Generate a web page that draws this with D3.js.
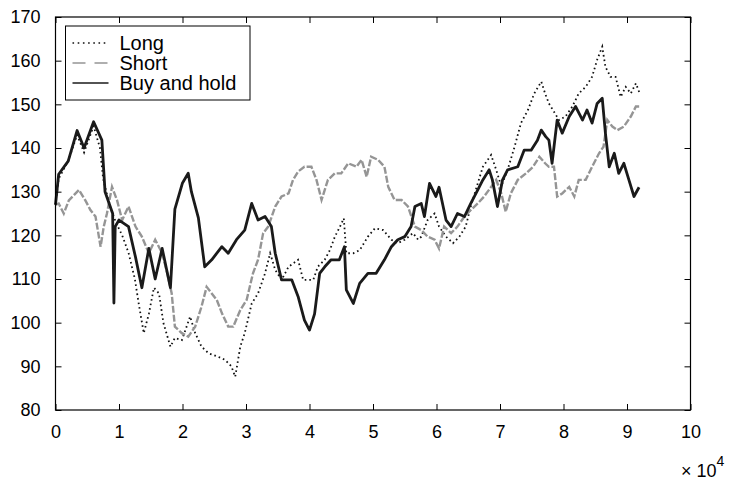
<!DOCTYPE html>
<html>
<head>
<meta charset="utf-8">
<script src="https://cdn.jsdelivr.net/npm/d3@7"></script>
<style>
  html, body { margin: 0; padding: 0; background: #fff; }
  svg { display: block; font-family: "Liberation Sans", Arial, sans-serif; }
</style>
</head>
<body>
<svg id="chart" width="739" height="483"></svg>
<script>
// Time index (×10^4 samples) and portfolio values for each strategy
const longX = [0, 0.05, 0.2, 0.34, 0.45, 0.6, 0.7, 0.75, 0.85, 0.95, 1.05, 1.15, 1.25, 1.31, 1.39, 1.47, 1.55, 1.63, 1.7, 1.81, 1.88, 1.99, 2.12, 2.2, 2.3, 2.41, 2.56, 2.67, 2.77, 2.83, 2.91, 2.98, 3.09, 3.19, 3.3, 3.38, 3.46, 3.56, 3.67, 3.82, 3.9, 3.98, 4.06, 4.13, 4.24, 4.32, 4.4, 4.48, 4.54, 4.58, 4.69, 4.79, 4.92, 5.03, 5.16, 5.29, 5.39, 5.5, 5.63, 5.71, 5.76, 5.86, 5.97, 6.04, 6.15, 6.26, 6.36, 6.46, 6.54, 6.65, 6.73, 6.86, 6.94, 7.02, 7.12, 7.23, 7.33, 7.44, 7.54, 7.65, 7.71, 7.77, 7.85, 7.93, 8.03, 8.14, 8.24, 8.35, 8.45, 8.53, 8.61, 8.66, 8.74, 8.82, 8.9, 8.98, 9.06, 9.14, 9.2];
const longV = [127, 133, 137, 143, 139, 145, 140, 133, 127, 123, 120, 116, 110, 104.4, 97.6, 102, 108, 106.7, 99.9, 94.5, 96.5, 96, 101.4, 97.6, 94.5, 93, 92.2, 91.5, 90, 87.6, 94.5, 97.6, 104.4, 106.7, 111.3, 115.9, 112.1, 109.8, 112.8, 114.4, 109.8, 109.8, 109.8, 112.8, 114.4, 116.6, 119.7, 122, 123.9, 115.9, 115.9, 116.6, 119.7, 121.6, 121.2, 119, 118.2, 119, 120.5, 119, 119.7, 123.5, 125, 122, 119.7, 118.2, 119.7, 122, 126.6, 131.9, 135.7, 138.4, 135, 131.2, 135, 140.3, 145.7, 148.7, 152.5, 155.2, 152.5, 150.2, 148.3, 146.4, 147.2, 149.5, 152.5, 154, 156.3, 160.2, 163.2, 158.6, 156.3, 156.3, 151.7, 154, 152.5, 154.8, 152.5];

const shortX = [0, 0.05, 0.13, 0.21, 0.37, 0.47, 0.55, 0.63, 0.71, 0.76, 0.81, 0.89, 0.97, 1.05, 1.15, 1.26, 1.36, 1.47, 1.57, 1.68, 1.76, 1.83, 1.88, 1.99, 2.09, 2.2, 2.3, 2.38, 2.46, 2.54, 2.62, 2.72, 2.8, 2.91, 3.01, 3.11, 3.19, 3.27, 3.35, 3.46, 3.56, 3.67, 3.74, 3.82, 3.92, 4.03, 4.11, 4.19, 4.29, 4.4, 4.5, 4.61, 4.74, 4.82, 4.9, 4.97, 5.08, 5.18, 5.24, 5.34, 5.45, 5.55, 5.66, 5.76, 5.86, 5.97, 6.04, 6.12, 6.23, 6.33, 6.44, 6.54, 6.65, 6.75, 6.86, 6.94, 7.02, 7.09, 7.17, 7.28, 7.41, 7.52, 7.62, 7.71, 7.77, 7.85, 7.9, 7.98, 8.09, 8.17, 8.24, 8.35, 8.45, 8.56, 8.63, 8.69, 8.77, 8.85, 8.95, 9.06, 9.14, 9.2];
const shortV = [127, 127.3, 125, 128, 130.4, 128, 125.8, 124.3, 117.4, 122, 125, 131.1, 128, 123.5, 126.6, 122, 119.7, 115.9, 119, 115.9, 111.3, 106.7, 99.1, 97.6, 96.8, 99.1, 103.7, 108.2, 106.7, 105.2, 102.2, 99.1, 99.1, 102.9, 105.2, 111.3, 114.4, 120.5, 122, 126.6, 128.9, 129.6, 132.7, 134.6, 135.7, 135.7, 132.7, 128.1, 132.7, 134.2, 134.2, 136.5, 135.7, 137.3, 133.4, 138, 137.3, 135.7, 131.1, 128.1, 128.1, 126.6, 122, 121.2, 119.7, 119, 117, 122, 120.5, 122, 124.3, 125.8, 127.3, 128.9, 131.1, 132.7, 129.6, 125.4, 129.6, 132.7, 134.2, 135.7, 138, 136.5, 135.7, 135.7, 128.9, 129.6, 131.1, 128.9, 132.7, 132.7, 135.7, 138.8, 140.3, 146.4, 144.9, 144.1, 144.9, 147.2, 149.5, 149.5];

const holdX = [0, 0.05, 0.2, 0.34, 0.45, 0.6, 0.73, 0.78, 0.9, 0.92, 0.94, 1.0, 1.15, 1.26, 1.36, 1.47, 1.57, 1.68, 1.81, 1.88, 2.0, 2.09, 2.14, 2.25, 2.35, 2.46, 2.62, 2.72, 2.85, 2.98, 3.09, 3.19, 3.3, 3.4, 3.46, 3.56, 3.72, 3.82, 3.92, 4.0, 4.08, 4.16, 4.24, 4.34, 4.47, 4.55, 4.58, 4.69, 4.79, 4.92, 5.05, 5.18, 5.29, 5.39, 5.5, 5.6, 5.66, 5.76, 5.81, 5.89, 5.99, 6.04, 6.15, 6.23, 6.33, 6.44, 6.54, 6.65, 6.73, 6.83, 6.88, 6.96, 7.04, 7.12, 7.28, 7.38, 7.49, 7.59, 7.65, 7.72, 7.77, 7.82, 7.9, 7.98, 8.09, 8.19, 8.3, 8.37, 8.45, 8.53, 8.61, 8.66, 8.72, 8.8, 8.87, 8.95, 9.03, 9.11, 9.19];
const holdV = [127, 134, 137, 144, 140, 146, 141.8, 130, 125, 104.5, 122, 123.5, 122, 115, 108, 117, 110, 117, 108, 126, 132, 134.2, 130, 124, 112.8, 114.4, 117.4, 115.9, 119, 121.2, 127.3, 123.5, 124.3, 122, 115.9, 109.8, 109.8, 106, 100.6, 98.3, 102, 111.3, 112.8, 114.4, 114.4, 117.4, 107.5, 104.4, 109, 111.3, 111.3, 114.4, 117.4, 119, 119.7, 122, 126.6, 127.3, 124.3, 131.9, 128.9, 131, 123.5, 122, 125, 124.3, 127.3, 130.4, 132.7, 135, 132.7, 126.6, 132.7, 135, 135.7, 139.5, 139.5, 141.8, 144.1, 142.6, 141.8, 136.5, 146.4, 143.4, 147.2, 149.5, 146.4, 148.7, 145.7, 150.2, 151.4, 143.4, 135.7, 138.8, 134.2, 136.5, 132.7, 128.9, 131];

const xTicks = [0, 1, 2, 3, 4, 5, 6, 7, 8, 9, 10];
const yTicks = [80, 90, 100, 110, 120, 130, 140, 150, 160, 170];
const seriesNames = ["Long", "Short", "Buy and hold"];

const svg = d3.select("#chart");
const W = 739, H = 483;
const plot = { left: 55.5, right: 690.5, top: 17, bottom: 410 };

svg.append("rect").attr("width", W).attr("height", H).attr("fill", "#fff");

const x = d3.scaleLinear().domain([0, 100000]).range([plot.left, plot.right]);
const y = d3.scaleLinear().domain([80, 170]).range([plot.bottom, plot.top]);

const toPts = (xs, vs) => xs.map((t, i) => [t * 1e4, vs[i]]);
const line = d3.line().x(d => x(d[0])).y(d => y(d[1]));

const g = svg.append("g");
g.append("path").datum(toPts(longX, longV))
  .attr("d", line).attr("fill", "none").attr("stroke", "#111")
  .attr("stroke-width", 1.8).attr("stroke-dasharray", "1.6,3");
g.append("path").datum(toPts(shortX, shortV))
  .attr("d", line).attr("fill", "none").attr("stroke", "#959595")
  .attr("stroke-width", 2.4).attr("stroke-dasharray", "7,2");
g.append("path").datum(toPts(holdX, holdV))
  .attr("d", line).attr("fill", "none").attr("stroke", "#1a1a1a")
  .attr("stroke-width", 2.8).attr("stroke-linejoin", "round");

// Axes: ticks inward on all four sides, box outline
const tickLen = 6;
const fs = 18;
const xAxisB = d3.axisBottom(x).tickValues(xTicks.map(t => t * 1e4))
  .tickFormat(d => d / 1e4).tickSizeInner(-tickLen).tickSizeOuter(0).tickPadding(tickLen + 9);
const xAxisT = d3.axisTop(x).tickValues(xTicks.map(t => t * 1e4))
  .tickFormat("").tickSizeInner(-tickLen).tickSizeOuter(0);
const yAxisL = d3.axisLeft(y).tickValues(yTicks).tickFormat(d3.format("d"))
  .tickSizeInner(-tickLen).tickSizeOuter(0).tickPadding(tickLen + 9);
const yAxisR = d3.axisRight(y).tickValues(yTicks).tickFormat("")
  .tickSizeInner(-tickLen).tickSizeOuter(0);

function style(sel) {
  sel.select(".domain").remove();
  sel.selectAll("line").attr("stroke", "#000").attr("stroke-width", 1);
  sel.selectAll("text").attr("font-size", fs).attr("fill", "#000")
    .attr("font-family", "'Liberation Sans', Arial, sans-serif");
}
svg.append("g").attr("transform", `translate(0,${plot.bottom})`).call(xAxisB).call(style);
svg.append("g").attr("transform", `translate(0,${plot.top})`).call(xAxisT).call(style);
svg.append("g").attr("transform", `translate(${plot.left},0)`).call(yAxisL).call(style);
svg.append("g").attr("transform", `translate(${plot.right},0)`).call(yAxisR).call(style);

svg.append("rect")
  .attr("x", plot.left).attr("y", plot.top)
  .attr("width", plot.right - plot.left).attr("height", plot.bottom - plot.top)
  .attr("fill", "none").attr("stroke", "#000").attr("stroke-width", 1.2);

// Exponent label for the x axis
const ex = svg.append("text").attr("x", 681).attr("y", 477)
  .attr("font-size", fs).attr("fill", "#000");
ex.append("tspan").text("× 10");
ex.append("tspan").attr("dy", -11).attr("font-size", 14).text("4");

// Legend
const lg = svg.append("g").attr("transform", "translate(65.5,26)");
lg.append("rect").attr("width", 184.5).attr("height", 74)
  .attr("fill", "#fff").attr("stroke", "#000").attr("stroke-width", 1);
const legendStyles = [
  { stroke: "#111", dash: "1.6,3.6", w: 1.6 },
  { stroke: "#959595", dash: "13,9", w: 1.4 },
  { stroke: "#1a1a1a", dash: null, w: 1.4 }
];
seriesNames.forEach((name, i) => {
  const cy = 17 + i * 20;
  const ln = lg.append("line").attr("x1", 7).attr("x2", 43).attr("y1", cy).attr("y2", cy)
    .attr("stroke", legendStyles[i].stroke).attr("stroke-width", legendStyles[i].w);
  if (legendStyles[i].dash) ln.attr("stroke-dasharray", legendStyles[i].dash);
  lg.append("text").attr("x", 54).attr("y", cy).attr("dy", "0.36em")
    .attr("font-size", 20).attr("fill", "#000").text(name);
});
</script>
</body>
</html>
